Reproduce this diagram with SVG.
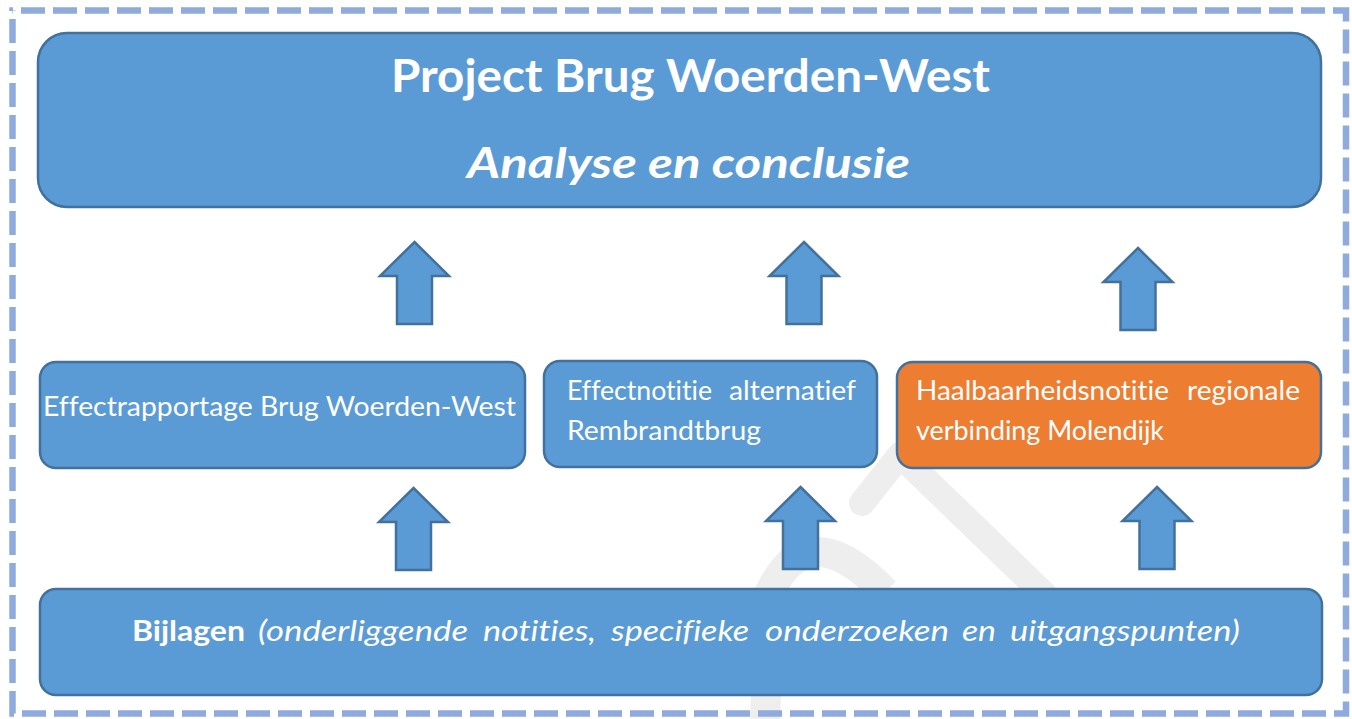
<svg xmlns="http://www.w3.org/2000/svg" width="1352" height="719" viewBox="0 0 1352 719">
  <style>
    .box { fill: #5b9bd5; stroke: #41719c; stroke-width: 2.5; }
    .orange { fill: #ed7d31; stroke: #41719c; stroke-width: 2.5; }
    .arrow { fill: #5b9bd5; stroke: #41719c; stroke-width: 2.5; stroke-linejoin: miter; }
    .t { fill: #ffffff; font-family: Lato, "Open Sans", "Liberation Sans", sans-serif; font-variant-ligatures: none; font-feature-settings: "liga" 0, "dlig" 0; }
    .wm { fill: none; stroke: #eeeeee; }
  </style>
  <defs>
    <path id="arrowShape" d="M0,0 L34.5,34 L17.5,34 L17.5,82 L-17.5,82 L-17.5,34 L-34.5,34 Z"/>
  </defs>
  <rect x="0" y="0" width="1352" height="719" fill="#ffffff"/>

  <!-- faint watermark strokes -->
  <g id="watermark">
    <polyline class="wm" stroke-width="26" stroke-linecap="round" stroke-linejoin="round" points="862,503 900,455 1045,595"/>
    <path class="wm" stroke-width="30" d="M765,719 L770,592 Q808,512 885,592"/>
  </g>

  <!-- dashed outer frame -->
  <rect id="frame" x="12.5" y="10.5" width="1333.5" height="703" fill="none" stroke="#8faadc" stroke-width="6.5" stroke-dasharray="24 8" stroke-dashoffset="23.5"/>

  <g id="connectors">
    <use href="#arrowShape" class="arrow" x="414.5" y="242"/>
    <use href="#arrowShape" class="arrow" x="804" y="242"/>
    <use href="#arrowShape" class="arrow" x="1138" y="248"/>
    <use href="#arrowShape" class="arrow" x="413.5" y="488"/>
    <use href="#arrowShape" class="arrow" x="800.5" y="487"/>
    <use href="#arrowShape" class="arrow" x="1157" y="487"/>
  </g>

  <g id="node-top">
    <rect class="box" x="38" y="33" width="1283" height="174" rx="29" ry="29"/>
    <text class="t" x="391" y="92" font-size="46" font-weight="700" textLength="599" lengthAdjust="spacingAndGlyphs">Project Brug Woerden-West</text>
    <text class="t" x="467" y="178" font-size="42" font-weight="700" font-style="italic" textLength="443" lengthAdjust="spacingAndGlyphs">Analyse en conclusie</text>
  </g>

  <g id="node-effectrapportage">
    <rect class="box" x="40" y="362" width="485" height="106" rx="16" ry="16"/>
    <text class="t" x="43" y="416" font-size="26" textLength="473" lengthAdjust="spacingAndGlyphs">Effectrapportage Brug Woerden-West</text>
  </g>

  <g id="node-effectnotitie">
    <rect class="box" x="544" y="361" width="333" height="106" rx="16" ry="16"/>
    <text class="t" x="567" y="400" font-size="26" textLength="145" lengthAdjust="spacingAndGlyphs">Effectnotitie</text>
    <text class="t" x="729" y="400" font-size="26" textLength="127" lengthAdjust="spacingAndGlyphs">alternatief</text>
    <text class="t" x="567" y="440" font-size="26" textLength="194" lengthAdjust="spacingAndGlyphs">Rembrandtbrug</text>
  </g>

  <g id="node-haalbaarheid">
    <rect class="orange" x="897" y="362" width="424" height="106" rx="16" ry="16"/>
    <text class="t" x="916" y="400" font-size="26" textLength="253" lengthAdjust="spacingAndGlyphs">Haalbaarheidsnotitie</text>
    <text class="t" x="1187" y="400" font-size="26" textLength="113" lengthAdjust="spacingAndGlyphs">regionale</text>
    <text class="t" x="916" y="440" font-size="26" textLength="248" lengthAdjust="spacingAndGlyphs">verbinding Molendijk</text>
  </g>

  <g id="node-bijlagen">
    <rect class="box" x="40" y="589" width="1282" height="106" rx="16" ry="16"/>
    <text class="t" x="132" y="641" font-size="28" font-weight="700" textLength="113" lengthAdjust="spacingAndGlyphs">Bijlagen</text>
    <g font-style="italic" font-size="28">
      <text class="t" x="258" y="641" textLength="210" lengthAdjust="spacingAndGlyphs">(onderliggende</text>
      <text class="t" x="483" y="641" textLength="113" lengthAdjust="spacingAndGlyphs">notities,</text>
      <text class="t" x="611" y="641" textLength="138" lengthAdjust="spacingAndGlyphs">specifieke</text>
      <text class="t" x="765" y="641" textLength="184" lengthAdjust="spacingAndGlyphs">onderzoeken</text>
      <text class="t" x="962" y="641" textLength="34" lengthAdjust="spacingAndGlyphs">en</text>
      <text class="t" x="1010" y="641" textLength="230" lengthAdjust="spacingAndGlyphs">uitgangspunten)</text>
    </g>
  </g>
</svg>
